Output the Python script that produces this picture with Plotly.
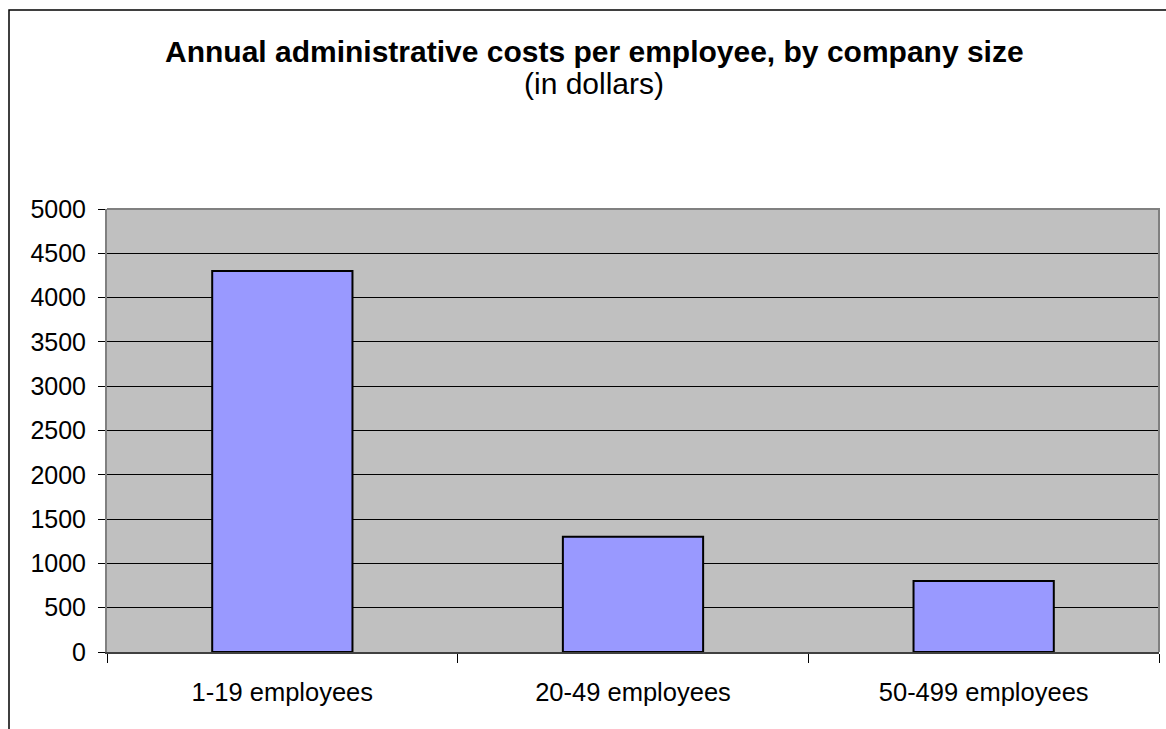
import plotly.graph_objects as go

# Chart data
categories = ["1-19 employees", "20-49 employees", "50-499 employees"]
costs = [4300, 1300, 800]
y_ticks = list(range(0, 5001, 500))

W, H = 1166, 729
M_L, M_R, M_T, M_B = 107, 7, 209, 77
PW, PH = W - M_L - M_R, H - M_T - M_B


def px_x(px):
    """Convert a pixel x position to paper coordinates."""
    return (px - M_L) / PW


def px_y(py):
    """Convert a pixel y position (from top) to paper coordinates."""
    return (H - M_B - py) / PH


FONT = "Arial, Liberation Sans, sans-serif"

fig = go.Figure(
    go.Bar(
        x=categories,
        y=costs,
        marker=dict(color="#9999FF", line=dict(color="#000000", width=2)),
        width=0.4,
        hoverinfo="x+y",
    )
)

fig.update_layout(
    width=W,
    height=H,
    margin=dict(l=M_L, r=M_R, t=M_T, b=M_B, pad=0),
    paper_bgcolor="#FFFFFF",
    plot_bgcolor="#C0C0C0",
    showlegend=False,
    font=dict(family=FONT, color="#000000", size=25),
    xaxis=dict(
        type="category",
        showgrid=False,
        showline=True,
        linecolor="#404040",
        linewidth=2,
        ticks="outside",
        tickson="boundaries",
        ticklen=9,
        tickcolor="#000000",
        tickwidth=1,
        tickfont=dict(size=25.5),
        ticklabelstandoff=16,
    ),
    yaxis=dict(
        range=[0, 5000],
        tickvals=y_ticks,
        showgrid=True,
        gridcolor="#000000",
        gridwidth=1,
        zeroline=False,
        showline=True,
        linecolor="#808080",
        linewidth=2,
        ticks="outside",
        ticklen=7,
        tickcolor="#000000",
        tickwidth=1,
        tickfont=dict(size=25),
        ticklabelstandoff=7,
    ),
    annotations=[
        dict(
            text="<b>Annual administrative costs per employee, by company size</b>",
            x=px_x(594), y=px_y(52), xref="paper", yref="paper",
            xanchor="center", yanchor="middle", showarrow=False,
            font=dict(size=30, family=FONT),
        ),
        dict(
            text="(in dollars)",
            x=px_x(594), y=px_y(84), xref="paper", yref="paper",
            xanchor="center", yanchor="middle", showarrow=False,
            font=dict(size=30, family=FONT),
        ),
    ],
    shapes=[
        # top and right edges of the plot area
        dict(type="path", xref="paper", yref="paper",
             path="M 0 1 L 1 1 L 1 0",
             line=dict(color="#808080", width=2), layer="above"),
        # outer chart frame (left and top edges)
        dict(type="path", xref="paper", yref="paper",
             path=f"M {px_x(9)} {px_y(740)} L {px_x(9)} {px_y(10)} L {px_x(1180)} {px_y(10)}",
             line=dict(color="#000000", width=1.5), layer="above"),
    ],
)

fig.write_html("out.html")
